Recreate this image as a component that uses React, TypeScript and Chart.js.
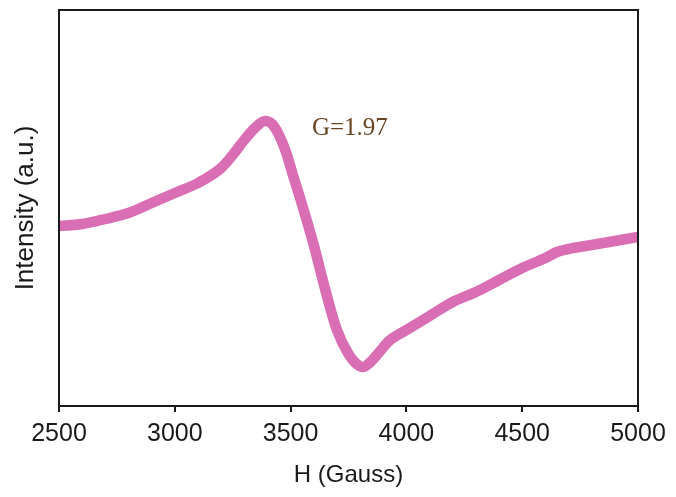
import React, { useEffect, useRef } from "react";
import { Chart, registerables } from "chart.js";

Chart.register(...registerables);

// Magnetic field (Gauss)
const fieldG = [2500, 2600, 2700, 2800, 2900, 3000, 3100, 3200, 3250, 3300, 3350, 3390, 3420, 3450, 3480, 3510, 3550, 3600, 3650, 3700, 3750, 3785, 3812, 3845, 3880, 3925, 4000, 4100, 4200, 4300, 4400, 4500, 4600, 4650, 4700, 4800, 4900, 5000];
// Intensity (a.u.)
const intensity = [180, 182, 187, 193, 203, 213, 223, 238, 251, 266, 279, 285, 282, 271, 254, 231, 201, 161, 116, 76, 52, 42, 39, 44, 53, 65, 76, 90, 104, 114, 126, 138, 148, 154, 157, 161, 165, 169];
const xTicks = [2500, 3000, 3500, 4000, 4500, 5000];
const xTitle = "H (Gauss)";
const yTitle = "Intensity (a.u.)";
const annotationText = "G=1.97";
const annotationAt = { x: 3592, y: 271 };

export default function App() {
  const ref = useRef<HTMLCanvasElement | null>(null);

  useEffect(() => {
    if (!ref.current) return;
    const framePlugin = {
      id: "frameAndLabel",
      afterDraw(chart: any) {
        const { ctx, chartArea, scales } = chart;
        ctx.save();
        ctx.strokeStyle = "#1a1a1a";
        ctx.lineWidth = 2;
        ctx.strokeRect(chartArea.left, chartArea.top, chartArea.right - chartArea.left, chartArea.bottom - chartArea.top);
        ctx.fillStyle = "#6a4420";
        ctx.font = "25px 'Liberation Serif', 'Times New Roman', serif";
        ctx.textAlign = "left";
        ctx.textBaseline = "alphabetic";
        ctx.fillText(annotationText, scales.x.getPixelForValue(annotationAt.x), scales.y.getPixelForValue(annotationAt.y));
        ctx.restore();
      },
    };

    const chart = new Chart(ref.current, {
      type: "line",
      data: {
        datasets: [
          {
            data: fieldG.map((g, i) => ({ x: g, y: intensity[i] })),
            borderColor: "#da6eb4",
            borderWidth: 10.5,
            pointRadius: 0,
            cubicInterpolationMode: "monotone",
            borderCapStyle: "round",
            borderJoinStyle: "round",
            clip: 0,
          } as any,
        ],
      },
      options: {
        animation: false,
        responsive: false,
        layout: { padding: { top: 10, right: 38, left: 0, bottom: 0 } },
        plugins: { legend: { display: false }, tooltip: { enabled: false } },
        scales: {
          x: {
            type: "linear",
            min: 2500,
            max: 5000,
            afterBuildTicks: (s: any) => {
              s.ticks = xTicks.map((v) => ({ value: v }));
            },
            afterFit: (s: any) => {
              s.height = 91;
            },
            grid: { display: true, drawOnChartArea: false, drawTicks: true, tickLength: 6, color: "#1a1a1a", lineWidth: 2 },
            border: { display: true, color: "#1a1a1a", width: 2 },
            ticks: {
              color: "#1a1a1a",
              padding: 7,
              maxRotation: 0,
              autoSkip: false,
              font: { family: "'Liberation Sans', Arial, sans-serif", size: 25 },
              callback: (v: any) => String(v),
            },
            title: {
              display: true,
              text: xTitle,
              color: "#1a1a1a",
              padding: { top: 0, bottom: 7 },
              font: { family: "'Liberation Sans', Arial, sans-serif", size: 24 },
            },
          },
          y: {
            type: "linear",
            min: 0,
            max: 396,
            afterFit: (s: any) => {
              s.width = 59;
            },
            grid: { display: false },
            border: { display: true, color: "#1a1a1a", width: 2 },
            ticks: { display: false },
            title: {
              display: true,
              text: yTitle,
              color: "#1a1a1a",
              padding: { top: 10, bottom: 0 },
              font: { family: "'Liberation Sans', Arial, sans-serif", size: 26 },
            },
          },
        },
      },
      plugins: [framePlugin],
    } as any);
    return () => chart.destroy();
  }, []);

  return (
    <div style={{ position: "fixed", left: 0, top: 0, width: 676, height: 497, background: "#fff" }}>
      <canvas ref={ref} width={676} height={497} style={{ display: "block" }} />
    </div>
  );
}
